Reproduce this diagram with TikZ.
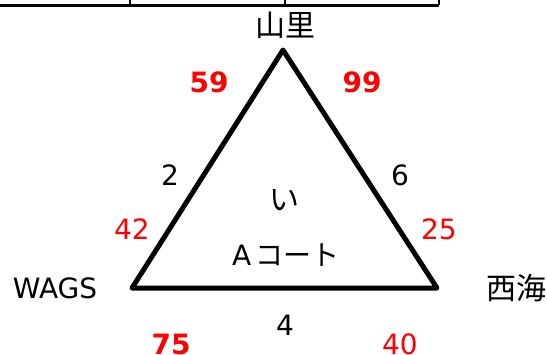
\documentclass[tikz,border=0pt]{standalone}
\usepackage{fontspec}
\setmainfont{DejaVu Sans}
\newfontfamily\jp{Noto Sans CJK JP}
\begin{document}
\begin{tikzpicture}[x=1pt,y=-1pt,
  lbl/.style={font=\fontsize{28}{32}\selectfont, inner sep=0pt, anchor=center},
  rednum/.style={lbl, text=red},
  redbold/.style={lbl, text=red, font=\fontsize{28}{32}\selectfont\bfseries},
  jplbl/.style={lbl, font=\fontsize{30}{34}\selectfont\jp},
  tri/.style={line width=5pt, line join=round, line cap=round},
  tbl/.style={line width=3pt}]
\useasboundingbox (0,0) rectangle (547,354);
% table fragment at top
\coordinate (t0) at (0,5);
\coordinate (t1) at (130,5);
\coordinate (t2) at (285,5);
\coordinate (t3) at (439,5);
\draw[tbl] (t0) -- (t3);
\draw[line width=2pt] (t1) -- ++(0,-6);
\draw[line width=2pt] (t2) -- ++(0,-6);
\draw[line width=2pt] (t3) -- ++(0,-6);
% triangle
\coordinate (A) at (283,50);
\coordinate (B) at (132,288);
\coordinate (C) at (437,288);
\draw[tri] (A) -- (B) -- (C) -- cycle;
% labels
\node[jplbl] (yamazato) at (285,25) {山里};
\node[lbl] (wags) at (55,288) {WAGS};
\node[jplbl] (saikai) at (516,288) {西海};
\node[redbold] (n59) at (209,82) {59};
\node[redbold] (n99) at (362,82) {99};
\node[lbl] (n2) at (170,175) {2};
\node[lbl] (n6) at (400,175) {6};
\node[rednum] (n42) at (132,229) {42};
\node[rednum] (n25) at (439,229) {25};
\node[jplbl] (i) at (284,200) {い};
\node[lbl] (court) at (286,255) {A\,{\jp コート}};
\node[lbl] (n4) at (285,325) {4};
\node[redbold] (n75) at (171,344) {75};
\node[rednum] (n40) at (400,344) {40};
\end{tikzpicture}
\end{document}
